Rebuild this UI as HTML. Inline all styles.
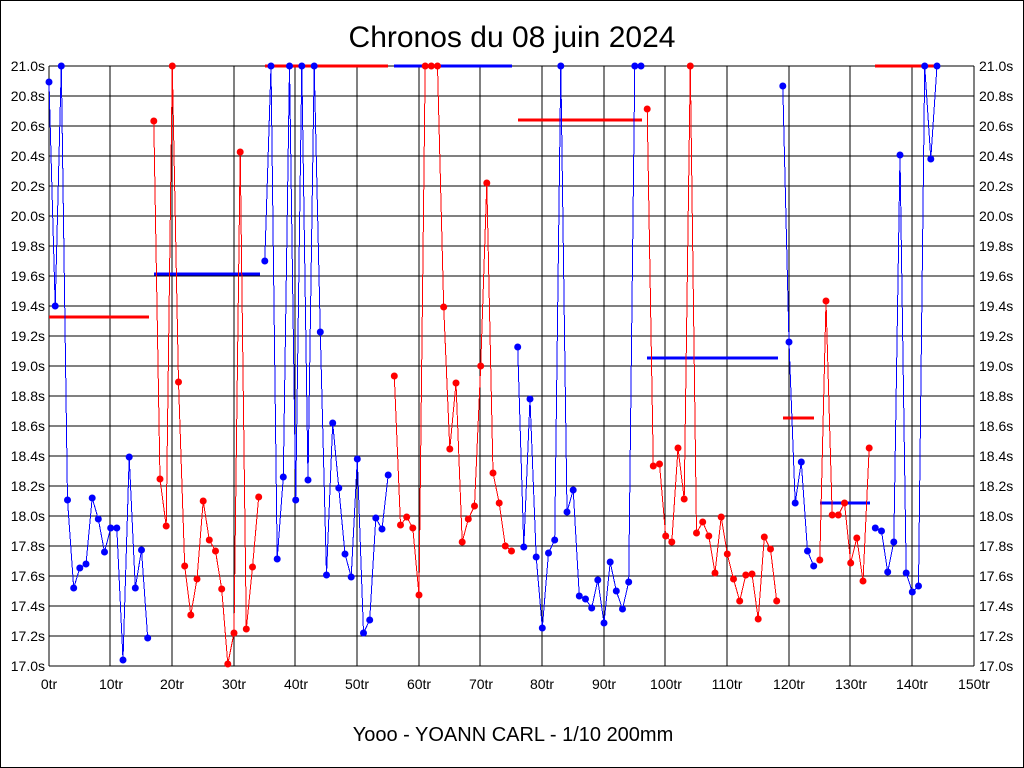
<!DOCTYPE html>
<html>
<head>
<meta charset="utf-8">
<style>
html,body{margin:0;padding:0;background:#fff;}
svg{display:block;}
text{font-family:"Liberation Sans",Arial,sans-serif;fill:#000;}
</style>
</head>
<body>
<svg width="1024" height="768" viewBox="0 0 1024 768" xmlns="http://www.w3.org/2000/svg">
<defs>
<marker id="mb" markerWidth="8" markerHeight="8" refX="4" refY="4" markerUnits="userSpaceOnUse"><circle cx="4" cy="4" r="3.5" fill="#0000ff"/></marker>
<marker id="mr" markerWidth="8" markerHeight="8" refX="4" refY="4" markerUnits="userSpaceOnUse"><circle cx="4" cy="4" r="3.5" fill="#ff0000"/></marker>
</defs>
<rect x="0" y="0" width="1024" height="768" fill="#fff"/>
<rect x="0.5" y="0.5" width="1023" height="767" fill="none" stroke="#000" stroke-width="1"/>

<text x="512" y="47" font-size="30" text-anchor="middle">Chronos du 08 juin 2024</text>
<text x="513" y="741" font-size="20" text-anchor="middle">Yooo - YOANN CARL - 1/10 200mm</text>

<g stroke="#000" stroke-width="1" shape-rendering="crispEdges">
<line x1="49" y1="66" x2="974" y2="66"/>
<line x1="49" y1="96" x2="974" y2="96"/>
<line x1="49" y1="126" x2="974" y2="126"/>
<line x1="49" y1="156" x2="974" y2="156"/>
<line x1="49" y1="186" x2="974" y2="186"/>
<line x1="49" y1="216" x2="974" y2="216"/>
<line x1="49" y1="246" x2="974" y2="246"/>
<line x1="49" y1="276" x2="974" y2="276"/>
<line x1="49" y1="306" x2="974" y2="306"/>
<line x1="49" y1="336" x2="974" y2="336"/>
<line x1="49" y1="366" x2="974" y2="366"/>
<line x1="49" y1="396" x2="974" y2="396"/>
<line x1="49" y1="426" x2="974" y2="426"/>
<line x1="49" y1="456" x2="974" y2="456"/>
<line x1="49" y1="486" x2="974" y2="486"/>
<line x1="49" y1="516" x2="974" y2="516"/>
<line x1="49" y1="546" x2="974" y2="546"/>
<line x1="49" y1="576" x2="974" y2="576"/>
<line x1="49" y1="606" x2="974" y2="606"/>
<line x1="49" y1="636" x2="974" y2="636"/>
<line x1="49" y1="666" x2="974" y2="666"/>
<line x1="49" y1="66" x2="49" y2="666"/>
<line x1="110" y1="66" x2="110" y2="666"/>
<line x1="172" y1="66" x2="172" y2="666"/>
<line x1="234" y1="66" x2="234" y2="666"/>
<line x1="295" y1="66" x2="295" y2="666"/>
<line x1="357" y1="66" x2="357" y2="666"/>
<line x1="419" y1="66" x2="419" y2="666"/>
<line x1="480" y1="66" x2="480" y2="666"/>
<line x1="542" y1="66" x2="542" y2="666"/>
<line x1="604" y1="66" x2="604" y2="666"/>
<line x1="665" y1="66" x2="665" y2="666"/>
<line x1="727" y1="66" x2="727" y2="666"/>
<line x1="789" y1="66" x2="789" y2="666"/>
<line x1="850" y1="66" x2="850" y2="666"/>
<line x1="912" y1="66" x2="912" y2="666"/>
<line x1="974" y1="66" x2="974" y2="666"/>
</g>

<g font-size="14" text-anchor="end">
<text x="45" y="71">21.0s</text>
<text x="45" y="101">20.8s</text>
<text x="45" y="131">20.6s</text>
<text x="45" y="161">20.4s</text>
<text x="45" y="191">20.2s</text>
<text x="45" y="221">20.0s</text>
<text x="45" y="251">19.8s</text>
<text x="45" y="281">19.6s</text>
<text x="45" y="311">19.4s</text>
<text x="45" y="341">19.2s</text>
<text x="45" y="371">19.0s</text>
<text x="45" y="401">18.8s</text>
<text x="45" y="431">18.6s</text>
<text x="45" y="461">18.4s</text>
<text x="45" y="491">18.2s</text>
<text x="45" y="521">18.0s</text>
<text x="45" y="551">17.8s</text>
<text x="45" y="581">17.6s</text>
<text x="45" y="611">17.4s</text>
<text x="45" y="641">17.2s</text>
<text x="45" y="671">17.0s</text>
</g>
<g font-size="14" text-anchor="start">
<text x="979" y="71">21.0s</text>
<text x="979" y="101">20.8s</text>
<text x="979" y="131">20.6s</text>
<text x="979" y="161">20.4s</text>
<text x="979" y="191">20.2s</text>
<text x="979" y="221">20.0s</text>
<text x="979" y="251">19.8s</text>
<text x="979" y="281">19.6s</text>
<text x="979" y="311">19.4s</text>
<text x="979" y="341">19.2s</text>
<text x="979" y="371">19.0s</text>
<text x="979" y="401">18.8s</text>
<text x="979" y="431">18.6s</text>
<text x="979" y="461">18.4s</text>
<text x="979" y="491">18.2s</text>
<text x="979" y="521">18.0s</text>
<text x="979" y="551">17.8s</text>
<text x="979" y="581">17.6s</text>
<text x="979" y="611">17.4s</text>
<text x="979" y="641">17.2s</text>
<text x="979" y="671">17.0s</text>
</g>
<g font-size="14" text-anchor="middle">
<text x="49" y="689">0tr</text>
<text x="111" y="689">10tr</text>
<text x="172" y="689">20tr</text>
<text x="234" y="689">30tr</text>
<text x="296" y="689">40tr</text>
<text x="357" y="689">50tr</text>
<text x="419" y="689">60tr</text>
<text x="481" y="689">70tr</text>
<text x="542" y="689">80tr</text>
<text x="604" y="689">90tr</text>
<text x="666" y="689">100tr</text>
<text x="727" y="689">110tr</text>
<text x="789" y="689">120tr</text>
<text x="851" y="689">130tr</text>
<text x="912" y="689">140tr</text>
<text x="974" y="689">150tr</text>
</g>

<!-- average bars -->
<g stroke-width="3" shape-rendering="crispEdges">
<line x1="49" y1="317" x2="149" y2="317" stroke="#ff0000"/>
<line x1="154" y1="274" x2="260" y2="274" stroke="#0000ff"/>
<line x1="265" y1="66" x2="388" y2="66" stroke="#ff0000"/>
<line x1="394" y1="66" x2="512" y2="66" stroke="#0000ff"/>
<line x1="518" y1="120" x2="642" y2="120" stroke="#ff0000"/>
<line x1="647" y1="358" x2="778" y2="358" stroke="#0000ff"/>
<line x1="783" y1="418" x2="814" y2="418" stroke="#ff0000"/>
<line x1="820" y1="503" x2="870" y2="503" stroke="#0000ff"/>
<line x1="875" y1="66" x2="938" y2="66" stroke="#ff0000"/>
</g>

<g fill="none" stroke-width="1" shape-rendering="crispEdges">
<polyline stroke="#0000ff" marker-start="url(#mb)" marker-mid="url(#mb)" marker-end="url(#mb)" points="49,82 55.2,306 61.3,66 67.5,500 73.7,588 79.8,568 86,564 92.2,498 98.3,519 104.5,552 110.7,528 116.8,528 123,660 129.2,457 135.3,588 141.5,550 147.7,638"/>
<polyline stroke="#ff0000" marker-start="url(#mr)" marker-mid="url(#mr)" marker-end="url(#mr)" points="153.8,121 160,479 166.2,526 172.3,66 178.5,382 184.7,566 190.8,615 197,579 203.2,501 209.3,540 215.5,551 221.7,589 227.8,664 234,633 240.2,152 246.3,629 252.5,567 258.7,497"/>
<polyline stroke="#0000ff" marker-start="url(#mb)" marker-mid="url(#mb)" marker-end="url(#mb)" points="264.8,261 271,66 277.2,559 283.3,477 289.5,66 295.7,500 301.8,66 308,480 314.2,66 320.3,332 326.5,575 332.7,423 338.8,488 345,554 351.2,577 357.3,459 363.5,633 369.7,620 375.8,518 382,529 388.2,475"/>
<polyline stroke="#ff0000" marker-start="url(#mr)" marker-mid="url(#mr)" marker-end="url(#mr)" points="394.3,376 400.5,525 406.7,517 412.8,528 419,595 425.2,66 431.3,66 437.5,66 443.7,307 449.8,449 456,383 462.2,542 468.3,519 474.5,506 480.7,366 486.8,183 493,473 499.2,503 505.3,546 511.5,551"/>
<polyline stroke="#0000ff" marker-start="url(#mb)" marker-mid="url(#mb)" marker-end="url(#mb)" points="517.7,347 523.8,547 530,399 536.2,557 542.3,628 548.5,553 554.7,540 560.8,66 567,512 573.2,490 579.3,596 585.5,599 591.7,608 597.8,580 604,623 610.2,562 616.3,591 622.5,609 628.7,582 634.8,66 641,66"/>
<polyline stroke="#ff0000" marker-start="url(#mr)" marker-mid="url(#mr)" marker-end="url(#mr)" points="647.2,109 653.3,466 659.5,464 665.7,536 671.8,542 678,448 684.2,499 690.3,66 696.5,533 702.7,522 708.8,536 715,573 721.2,517 727.3,554 733.5,579 739.7,601 745.8,575 752,574 758.2,619 764.3,537 770.5,549 776.7,601"/>
<polyline stroke="#0000ff" marker-start="url(#mb)" marker-mid="url(#mb)" marker-end="url(#mb)" points="782.8,86 789,342 795.2,503 801.3,462 807.5,551 813.7,566"/>
<polyline stroke="#ff0000" marker-start="url(#mr)" marker-mid="url(#mr)" marker-end="url(#mr)" points="819.8,560 826,301 832.2,515 838.3,515 844.5,503 850.7,563 856.8,538 863,581 869.2,448"/>
<polyline stroke="#0000ff" marker-start="url(#mb)" marker-mid="url(#mb)" marker-end="url(#mb)" points="875.3,528 881.5,531 887.7,572 893.8,542 900,155 906.2,573 912.3,592 918.5,586 924.7,66 930.8,159 937,66"/>
</g>
</svg>
</body>
</html>
